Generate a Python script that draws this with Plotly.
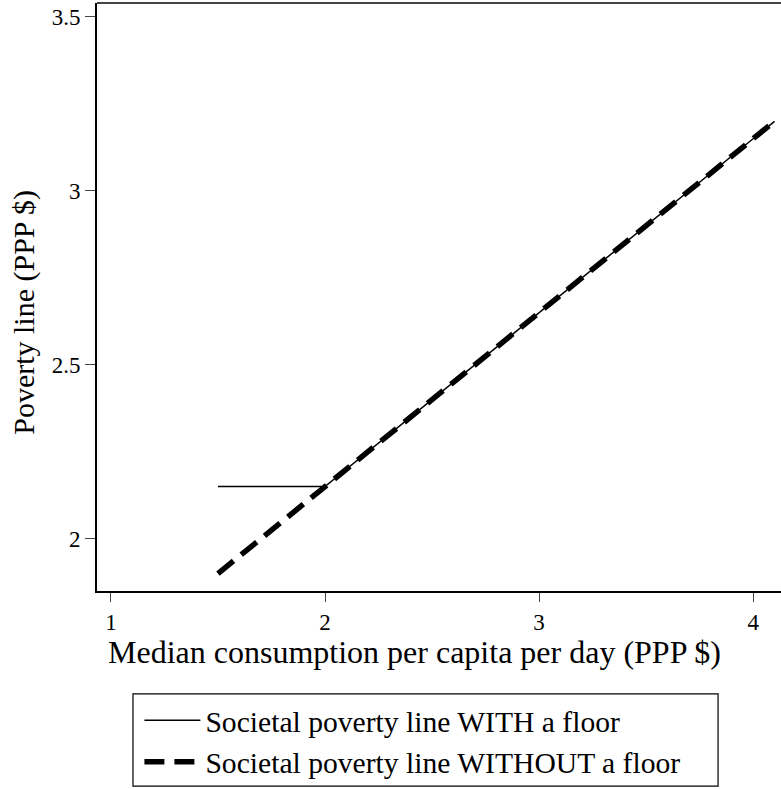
import plotly.graph_objects as go

# Median consumption per capita per day (PPP $)
median = [1.5, 2.0, 4.1]
# Societal poverty line with a floor at 2.15
spl_with_floor = [2.15, 2.15, 3.2]
# Societal poverty line without a floor
spl_without_floor = [1.9, 2.15, 3.2]

x_ticks = [1, 2, 3, 4]
y_ticks = [2, 2.5, 3, 3.5]
y_tick_text = ["2", "2.5", "3", "3.5"]

x_title = "Median consumption per capita per day (PPP $)"
y_title = "Poverty line (PPP $)"

FONT = "Liberation Serif"

fig = go.Figure()
fig.add_trace(go.Scatter(
    x=median, y=spl_with_floor, mode="lines",
    name="Societal poverty line WITH a floor",
    line=dict(color="black", width=1.5),
))
fig.add_trace(go.Scatter(
    x=median, y=spl_without_floor, mode="lines",
    name="Societal poverty line WITHOUT a floor",
    line=dict(color="black", width=5.5, dash="20px,10px"),
))

fig.update_layout(
    width=781, height=789,
    margin=dict(l=97, r=0, t=3, b=198),
    plot_bgcolor="white", paper_bgcolor="white",
    font=dict(family=FONT, color="black"),
    showlegend=True,
    legend=dict(
        x=0.062, y=-0.176, xanchor="left", yanchor="top",
        borderwidth=0, bgcolor="rgba(0,0,0,0)",
        font=dict(family=FONT, size=29.6, color="black"),
        tracegroupgap=0, itemwidth=56,
    ),
    shapes=[
        # top frame line of the plot region
        dict(type="line", xref="paper", yref="paper",
             x0=0, x1=1, y0=1, y1=1, line=dict(color="#444", width=2)),
        # legend frame
        dict(type="rect", xref="paper", yref="paper",
             x0=0.0526, x1=0.908, y0=-0.332, y1=-0.175,
             line=dict(color="black", width=1.2)),
    ],
    annotations=[
        dict(text=x_title, xref="paper", yref="paper",
             x=0.4635, y=-0.1037, xanchor="center", yanchor="middle",
             showarrow=False, font=dict(family=FONT, size=32, color="black")),
        dict(text=y_title, xref="paper", yref="paper", textangle=-90,
             x=-0.107, y=0.4745, xanchor="center", yanchor="middle",
             showarrow=False, font=dict(family=FONT, size=30, color="black")),
    ],
)

fig.update_xaxes(
    range=[0.935, 4.13],
    tickvals=x_ticks, ticktext=[str(v) for v in x_ticks],
    ticks="outside", ticklen=9, tickwidth=1.2, tickcolor="#444",
    showline=True, linecolor="black", linewidth=2,
    showgrid=False, zeroline=False,
    tickfont=dict(family=FONT, size=23, color="black"),
)
fig.update_yaxes(
    range=[1.85, 3.54],
    tickvals=y_ticks, ticktext=y_tick_text,
    ticks="outside", ticklen=10, tickwidth=1.2, tickcolor="#444",
    showline=True, linecolor="black", linewidth=2,
    showgrid=False, zeroline=False,
    tickfont=dict(family=FONT, size=23, color="black"),
)

fig.write_html("out.html")
